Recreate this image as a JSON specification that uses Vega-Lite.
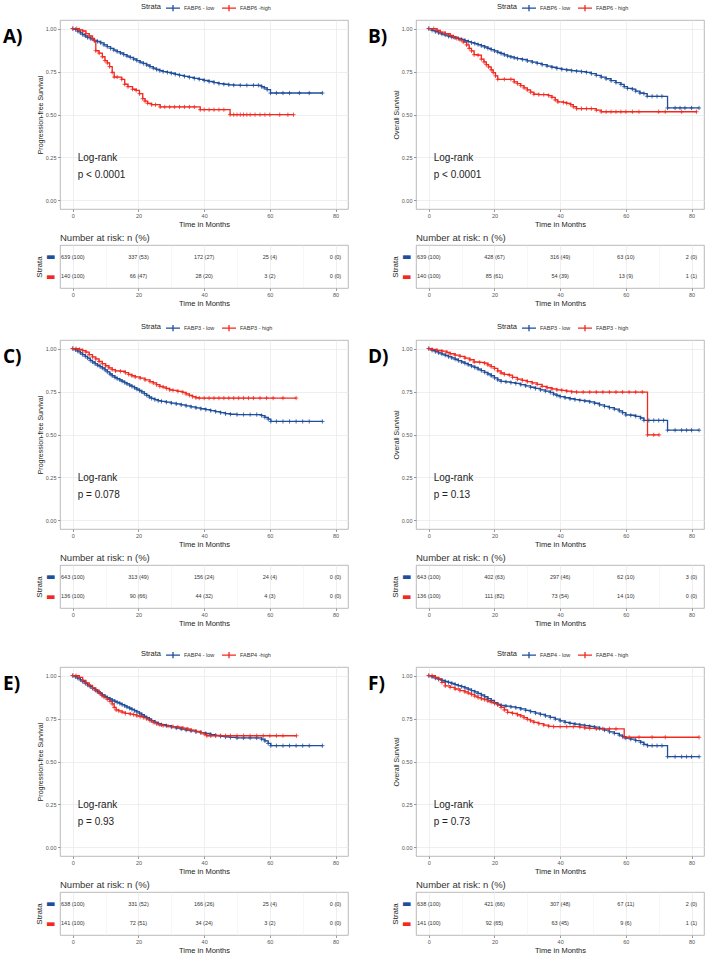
{
"$schema":"https://vega.github.io/schema/vega-lite/v6.json",
"padding":{"left":2,"top":0,"right":0,"bottom":0},
"background":"white",
"datasets":{
"A":[{"g":"l","t":0,"s":1},{"g":"l","t":0.8,"s":0.995},{"g":"l","t":1.5,"s":0.985},{"g":"l","t":2.3,"s":0.975},{"g":"l","t":3,"s":0.965},{"g":"l","t":3.8,"s":0.957},{"g":"l","t":4.5,"s":0.948},{"g":"l","t":5.5,"s":0.94},{"g":"l","t":6.5,"s":0.932},{"g":"l","t":7.5,"s":0.925},{"g":"l","t":8.5,"s":0.917},{"g":"l","t":9.5,"s":0.905},{"g":"l","t":10.5,"s":0.895},{"g":"l","t":11.5,"s":0.885},{"g":"l","t":12.5,"s":0.875},{"g":"l","t":13.5,"s":0.866},{"g":"l","t":14.5,"s":0.858},{"g":"l","t":15.5,"s":0.849},{"g":"l","t":16.5,"s":0.84},{"g":"l","t":17.5,"s":0.832},{"g":"l","t":18.5,"s":0.823},{"g":"l","t":19.5,"s":0.814},{"g":"l","t":20.5,"s":0.805},{"g":"l","t":21.5,"s":0.797},{"g":"l","t":22.5,"s":0.788},{"g":"l","t":23.5,"s":0.779},{"g":"l","t":24.5,"s":0.77},{"g":"l","t":25.5,"s":0.762},{"g":"l","t":26.5,"s":0.755},{"g":"l","t":27.5,"s":0.75},{"g":"l","t":28.8,"s":0.745},{"g":"l","t":30,"s":0.74},{"g":"l","t":31.2,"s":0.734},{"g":"l","t":32.5,"s":0.728},{"g":"l","t":34,"s":0.722},{"g":"l","t":35.5,"s":0.716},{"g":"l","t":37,"s":0.71},{"g":"l","t":38.5,"s":0.705},{"g":"l","t":40,"s":0.698},{"g":"l","t":41.5,"s":0.692},{"g":"l","t":43,"s":0.686},{"g":"l","t":44.5,"s":0.68},{"g":"l","t":46,"s":0.676},{"g":"l","t":47.5,"s":0.673},{"g":"l","t":49,"s":0.671},{"g":"l","t":51,"s":0.67},{"g":"l","t":53,"s":0.67},{"g":"l","t":55,"s":0.67},{"g":"l","t":56.5,"s":0.67},{"g":"l","t":57.5,"s":0.662},{"g":"l","t":58.3,"s":0.655},{"g":"l","t":59.2,"s":0.645},{"g":"l","t":60.2,"s":0.625},{"g":"l","t":62,"s":0.625},{"g":"l","t":64,"s":0.625},{"g":"l","t":66,"s":0.625},{"g":"l","t":69,"s":0.625},{"g":"l","t":72,"s":0.625},{"g":"l","t":76,"s":0.625},
{"g":"h","t":0,"s":1},{"g":"h","t":1.2,"s":1},{"g":"h","t":2,"s":0.993},{"g":"h","t":3,"s":0.986},{"g":"h","t":4,"s":0.971},{"g":"h","t":5,"s":0.957},{"g":"h","t":6,"s":0.943},{"g":"h","t":6.6,"s":0.929},{"g":"h","t":7,"s":0.871},{"g":"h","t":8,"s":0.857},{"g":"h","t":9,"s":0.836},{"g":"h","t":9.8,"s":0.814},{"g":"h","t":10.5,"s":0.8},{"g":"h","t":11.2,"s":0.779},{"g":"h","t":12,"s":0.745},{"g":"h","t":12.6,"s":0.718},{"g":"h","t":13.5,"s":0.718},{"g":"h","t":14.9,"s":0.705},{"g":"h","t":15.8,"s":0.676},{"g":"h","t":16.8,"s":0.662},{"g":"h","t":18.2,"s":0.647},{"g":"h","t":19.3,"s":0.64},{"g":"h","t":20.3,"s":0.621},{"g":"h","t":21.3,"s":0.592},{"g":"h","t":22,"s":0.578},{"g":"h","t":22.8,"s":0.565},{"g":"h","t":24,"s":0.557},{"g":"h","t":25.2,"s":0.557},{"g":"h","t":26.6,"s":0.544},{"g":"h","t":28,"s":0.544},{"g":"h","t":29.5,"s":0.544},{"g":"h","t":31,"s":0.544},{"g":"h","t":32.5,"s":0.544},{"g":"h","t":34,"s":0.544},{"g":"h","t":35.5,"s":0.544},{"g":"h","t":37,"s":0.544},{"g":"h","t":38.8,"s":0.528},{"g":"h","t":40,"s":0.528},{"g":"h","t":41.5,"s":0.528},{"g":"h","t":43,"s":0.528},{"g":"h","t":44.5,"s":0.528},{"g":"h","t":46,"s":0.528},{"g":"h","t":47.9,"s":0.499},{"g":"h","t":49,"s":0.499},{"g":"h","t":50,"s":0.499},{"g":"h","t":51,"s":0.499},{"g":"h","t":52,"s":0.499},{"g":"h","t":53,"s":0.499},{"g":"h","t":54,"s":0.499},{"g":"h","t":55.5,"s":0.499},{"g":"h","t":57,"s":0.499},{"g":"h","t":58.5,"s":0.499},{"g":"h","t":60,"s":0.499},{"g":"h","t":63,"s":0.499},{"g":"h","t":65.5,"s":0.499},{"g":"h","t":67.2,"s":0.499}],
"B":[{"g":"l","t":0,"s":1},{"g":"l","t":1,"s":0.99},{"g":"l","t":2,"s":0.982},{"g":"l","t":3,"s":0.975},{"g":"l","t":4,"s":0.968},{"g":"l","t":5,"s":0.962},{"g":"l","t":6,"s":0.955},{"g":"l","t":7,"s":0.95},{"g":"l","t":8,"s":0.946},{"g":"l","t":9,"s":0.942},{"g":"l","t":10,"s":0.937},{"g":"l","t":11,"s":0.93},{"g":"l","t":12,"s":0.924},{"g":"l","t":13,"s":0.918},{"g":"l","t":14,"s":0.913},{"g":"l","t":15,"s":0.907},{"g":"l","t":16,"s":0.9},{"g":"l","t":17,"s":0.893},{"g":"l","t":18,"s":0.885},{"g":"l","t":19,"s":0.878},{"g":"l","t":20,"s":0.87},{"g":"l","t":21,"s":0.862},{"g":"l","t":22,"s":0.855},{"g":"l","t":23,"s":0.847},{"g":"l","t":24,"s":0.84},{"g":"l","t":25,"s":0.835},{"g":"l","t":26,"s":0.83},{"g":"l","t":27,"s":0.825},{"g":"l","t":28.5,"s":0.82},{"g":"l","t":30,"s":0.812},{"g":"l","t":31.5,"s":0.805},{"g":"l","t":33,"s":0.798},{"g":"l","t":34.5,"s":0.79},{"g":"l","t":36,"s":0.782},{"g":"l","t":37.5,"s":0.775},{"g":"l","t":39,"s":0.768},{"g":"l","t":40.5,"s":0.763},{"g":"l","t":42,"s":0.759},{"g":"l","t":43.5,"s":0.755},{"g":"l","t":45,"s":0.752},{"g":"l","t":46.5,"s":0.749},{"g":"l","t":48,"s":0.745},{"g":"l","t":49.5,"s":0.738},{"g":"l","t":51,"s":0.728},{"g":"l","t":52.5,"s":0.718},{"g":"l","t":54,"s":0.708},{"g":"l","t":55.5,"s":0.697},{"g":"l","t":57,"s":0.686},{"g":"l","t":58.5,"s":0.675},{"g":"l","t":59.5,"s":0.662},{"g":"l","t":60.5,"s":0.652},{"g":"l","t":62,"s":0.648},{"g":"l","t":63,"s":0.636},{"g":"l","t":64.3,"s":0.625},{"g":"l","t":65.5,"s":0.622},{"g":"l","t":66.5,"s":0.606},{"g":"l","t":68,"s":0.606},{"g":"l","t":69.5,"s":0.606},{"g":"l","t":71,"s":0.606},{"g":"l","t":72.7,"s":0.538},{"g":"l","t":75,"s":0.538},{"g":"l","t":76.5,"s":0.538},{"g":"l","t":78,"s":0.538},{"g":"l","t":80,"s":0.538},{"g":"l","t":82.3,"s":0.538},
{"g":"h","t":0,"s":1},{"g":"h","t":1.5,"s":1},{"g":"h","t":2.5,"s":0.99},{"g":"h","t":3.5,"s":0.98},{"g":"h","t":5,"s":0.97},{"g":"h","t":6.5,"s":0.96},{"g":"h","t":7.5,"s":0.951},{"g":"h","t":8.5,"s":0.943},{"g":"h","t":9.5,"s":0.935},{"g":"h","t":10.5,"s":0.922},{"g":"h","t":11.5,"s":0.905},{"g":"h","t":12.3,"s":0.885},{"g":"h","t":13,"s":0.87},{"g":"h","t":13.8,"s":0.848},{"g":"h","t":15,"s":0.845},{"g":"h","t":16,"s":0.822},{"g":"h","t":16.8,"s":0.806},{"g":"h","t":17.5,"s":0.79},{"g":"h","t":18.2,"s":0.777},{"g":"h","t":19,"s":0.76},{"g":"h","t":19.6,"s":0.744},{"g":"h","t":20.3,"s":0.725},{"g":"h","t":21,"s":0.705},{"g":"h","t":23,"s":0.705},{"g":"h","t":25,"s":0.705},{"g":"h","t":26,"s":0.69},{"g":"h","t":27,"s":0.68},{"g":"h","t":28,"s":0.668},{"g":"h","t":29,"s":0.655},{"g":"h","t":30,"s":0.643},{"g":"h","t":31,"s":0.63},{"g":"h","t":32,"s":0.618},{"g":"h","t":33.5,"s":0.616},{"g":"h","t":35,"s":0.616},{"g":"h","t":36.5,"s":0.61},{"g":"h","t":37.5,"s":0.6},{"g":"h","t":38.5,"s":0.585},{"g":"h","t":39.3,"s":0.573},{"g":"h","t":41,"s":0.57},{"g":"h","t":42,"s":0.565},{"g":"h","t":43.2,"s":0.557},{"g":"h","t":44,"s":0.545},{"g":"h","t":45,"s":0.534},{"g":"h","t":46.5,"s":0.534},{"g":"h","t":48,"s":0.534},{"g":"h","t":49.5,"s":0.534},{"g":"h","t":51,"s":0.525},{"g":"h","t":52.5,"s":0.516},{"g":"h","t":54,"s":0.516},{"g":"h","t":55.5,"s":0.516},{"g":"h","t":57,"s":0.516},{"g":"h","t":58.5,"s":0.516},{"g":"h","t":60,"s":0.516},{"g":"h","t":62,"s":0.516},{"g":"h","t":64,"s":0.516},{"g":"h","t":70,"s":0.516},{"g":"h","t":72,"s":0.516},{"g":"h","t":77,"s":0.516},{"g":"h","t":81.5,"s":0.516}],
"C":[{"g":"l","t":0,"s":1},{"g":"l","t":0.8,"s":0.993},{"g":"l","t":1.5,"s":0.985},{"g":"l","t":2.3,"s":0.975},{"g":"l","t":3,"s":0.965},{"g":"l","t":3.8,"s":0.955},{"g":"l","t":4.5,"s":0.945},{"g":"l","t":5.3,"s":0.932},{"g":"l","t":6,"s":0.922},{"g":"l","t":6.8,"s":0.912},{"g":"l","t":7.5,"s":0.903},{"g":"l","t":8.3,"s":0.895},{"g":"l","t":9,"s":0.887},{"g":"l","t":9.8,"s":0.876},{"g":"l","t":10.5,"s":0.865},{"g":"l","t":11.3,"s":0.852},{"g":"l","t":12,"s":0.842},{"g":"l","t":12.8,"s":0.833},{"g":"l","t":13.5,"s":0.825},{"g":"l","t":14.3,"s":0.818},{"g":"l","t":15,"s":0.81},{"g":"l","t":15.8,"s":0.802},{"g":"l","t":16.5,"s":0.795},{"g":"l","t":17.3,"s":0.787},{"g":"l","t":18,"s":0.78},{"g":"l","t":18.8,"s":0.772},{"g":"l","t":19.5,"s":0.764},{"g":"l","t":20.3,"s":0.756},{"g":"l","t":21,"s":0.748},{"g":"l","t":21.8,"s":0.738},{"g":"l","t":22.5,"s":0.728},{"g":"l","t":23.3,"s":0.718},{"g":"l","t":24,"s":0.71},{"g":"l","t":25,"s":0.703},{"g":"l","t":26,"s":0.697},{"g":"l","t":27,"s":0.693},{"g":"l","t":28.5,"s":0.688},{"g":"l","t":30,"s":0.683},{"g":"l","t":31.5,"s":0.678},{"g":"l","t":33,"s":0.673},{"g":"l","t":34.5,"s":0.667},{"g":"l","t":36,"s":0.661},{"g":"l","t":37.5,"s":0.655},{"g":"l","t":39,"s":0.65},{"g":"l","t":40.5,"s":0.645},{"g":"l","t":42,"s":0.639},{"g":"l","t":43.5,"s":0.633},{"g":"l","t":45,"s":0.627},{"g":"l","t":46.5,"s":0.621},{"g":"l","t":48,"s":0.618},{"g":"l","t":50,"s":0.616},{"g":"l","t":52,"s":0.616},{"g":"l","t":54,"s":0.616},{"g":"l","t":56,"s":0.616},{"g":"l","t":57.5,"s":0.61},{"g":"l","t":58.5,"s":0.6},{"g":"l","t":59.5,"s":0.59},{"g":"l","t":60.3,"s":0.576},{"g":"l","t":62,"s":0.576},{"g":"l","t":64,"s":0.576},{"g":"l","t":66,"s":0.576},{"g":"l","t":68,"s":0.576},{"g":"l","t":70,"s":0.576},{"g":"l","t":72,"s":0.576},{"g":"l","t":76,"s":0.576},
{"g":"h","t":0,"s":1},{"g":"h","t":1,"s":1},{"g":"h","t":2,"s":0.995},{"g":"h","t":3,"s":0.988},{"g":"h","t":4,"s":0.98},{"g":"h","t":5,"s":0.965},{"g":"h","t":6,"s":0.952},{"g":"h","t":7,"s":0.94},{"g":"h","t":8,"s":0.925},{"g":"h","t":9,"s":0.912},{"g":"h","t":10,"s":0.9},{"g":"h","t":11,"s":0.888},{"g":"h","t":12,"s":0.878},{"g":"h","t":13,"s":0.87},{"g":"h","t":14.5,"s":0.868},{"g":"h","t":16,"s":0.86},{"g":"h","t":17,"s":0.85},{"g":"h","t":18,"s":0.842},{"g":"h","t":19,"s":0.835},{"g":"h","t":20.5,"s":0.828},{"g":"h","t":22,"s":0.818},{"g":"h","t":23.5,"s":0.808},{"g":"h","t":24.5,"s":0.8},{"g":"h","t":25.5,"s":0.79},{"g":"h","t":26.5,"s":0.78},{"g":"h","t":27.5,"s":0.776},{"g":"h","t":28.5,"s":0.768},{"g":"h","t":29.5,"s":0.76},{"g":"h","t":30.5,"s":0.757},{"g":"h","t":32,"s":0.751},{"g":"h","t":33.5,"s":0.745},{"g":"h","t":34.5,"s":0.736},{"g":"h","t":35.5,"s":0.728},{"g":"h","t":36.5,"s":0.72},{"g":"h","t":37.5,"s":0.714},{"g":"h","t":38.5,"s":0.712},{"g":"h","t":40,"s":0.712},{"g":"h","t":41.5,"s":0.712},{"g":"h","t":43,"s":0.712},{"g":"h","t":44.5,"s":0.712},{"g":"h","t":46,"s":0.712},{"g":"h","t":47.5,"s":0.712},{"g":"h","t":49,"s":0.712},{"g":"h","t":50.5,"s":0.712},{"g":"h","t":52,"s":0.712},{"g":"h","t":53.5,"s":0.712},{"g":"h","t":55,"s":0.712},{"g":"h","t":57,"s":0.712},{"g":"h","t":59,"s":0.712},{"g":"h","t":61,"s":0.712},{"g":"h","t":64,"s":0.712},{"g":"h","t":68,"s":0.712}],
"D":[{"g":"l","t":0,"s":1},{"g":"l","t":1,"s":0.99},{"g":"l","t":2,"s":0.982},{"g":"l","t":3,"s":0.975},{"g":"l","t":4,"s":0.968},{"g":"l","t":5,"s":0.961},{"g":"l","t":6,"s":0.953},{"g":"l","t":7,"s":0.946},{"g":"l","t":8,"s":0.938},{"g":"l","t":9,"s":0.93},{"g":"l","t":10,"s":0.922},{"g":"l","t":11,"s":0.914},{"g":"l","t":12,"s":0.906},{"g":"l","t":13,"s":0.898},{"g":"l","t":14,"s":0.89},{"g":"l","t":15,"s":0.881},{"g":"l","t":16,"s":0.872},{"g":"l","t":17,"s":0.862},{"g":"l","t":18,"s":0.852},{"g":"l","t":19,"s":0.842},{"g":"l","t":20,"s":0.83},{"g":"l","t":21,"s":0.818},{"g":"l","t":22,"s":0.809},{"g":"l","t":23.5,"s":0.806},{"g":"l","t":25,"s":0.802},{"g":"l","t":26.5,"s":0.797},{"g":"l","t":28,"s":0.79},{"g":"l","t":29.5,"s":0.783},{"g":"l","t":31,"s":0.775},{"g":"l","t":32.5,"s":0.768},{"g":"l","t":34,"s":0.76},{"g":"l","t":35.5,"s":0.752},{"g":"l","t":37,"s":0.745},{"g":"l","t":38,"s":0.735},{"g":"l","t":39,"s":0.727},{"g":"l","t":40,"s":0.72},{"g":"l","t":41.5,"s":0.714},{"g":"l","t":43,"s":0.708},{"g":"l","t":44.5,"s":0.703},{"g":"l","t":46,"s":0.699},{"g":"l","t":47.5,"s":0.695},{"g":"l","t":49,"s":0.69},{"g":"l","t":50.5,"s":0.682},{"g":"l","t":52,"s":0.673},{"g":"l","t":53.5,"s":0.664},{"g":"l","t":55,"s":0.656},{"g":"l","t":56.5,"s":0.648},{"g":"l","t":58,"s":0.638},{"g":"l","t":59,"s":0.627},{"g":"l","t":60,"s":0.614},{"g":"l","t":61.5,"s":0.612},{"g":"l","t":63,"s":0.606},{"g":"l","t":64.5,"s":0.596},{"g":"l","t":65.5,"s":0.582},{"g":"l","t":67,"s":0.582},{"g":"l","t":68.5,"s":0.582},{"g":"l","t":70,"s":0.582},{"g":"l","t":71.5,"s":0.582},{"g":"l","t":72.7,"s":0.525},{"g":"l","t":75,"s":0.525},{"g":"l","t":77,"s":0.525},{"g":"l","t":78.5,"s":0.525},{"g":"l","t":80,"s":0.525},{"g":"l","t":82.3,"s":0.525},
{"g":"h","t":0,"s":1},{"g":"h","t":1,"s":0.995},{"g":"h","t":2.5,"s":0.99},{"g":"h","t":4,"s":0.985},{"g":"h","t":5.5,"s":0.978},{"g":"h","t":6.5,"s":0.97},{"g":"h","t":8,"s":0.962},{"g":"h","t":9.5,"s":0.955},{"g":"h","t":11,"s":0.945},{"g":"h","t":12.5,"s":0.935},{"g":"h","t":13.8,"s":0.922},{"g":"h","t":15.5,"s":0.92},{"g":"h","t":17,"s":0.915},{"g":"h","t":18,"s":0.905},{"g":"h","t":19,"s":0.895},{"g":"h","t":20,"s":0.885},{"g":"h","t":21,"s":0.87},{"g":"h","t":22,"s":0.858},{"g":"h","t":23,"s":0.85},{"g":"h","t":24.5,"s":0.845},{"g":"h","t":25.5,"s":0.833},{"g":"h","t":27,"s":0.822},{"g":"h","t":28.5,"s":0.815},{"g":"h","t":30,"s":0.808},{"g":"h","t":31.5,"s":0.8},{"g":"h","t":33,"s":0.792},{"g":"h","t":34.5,"s":0.78},{"g":"h","t":36,"s":0.772},{"g":"h","t":37.5,"s":0.765},{"g":"h","t":39,"s":0.76},{"g":"h","t":40.5,"s":0.757},{"g":"h","t":42,"s":0.752},{"g":"h","t":43.5,"s":0.748},{"g":"h","t":45,"s":0.747},{"g":"h","t":47,"s":0.747},{"g":"h","t":49,"s":0.747},{"g":"h","t":51,"s":0.747},{"g":"h","t":53,"s":0.747},{"g":"h","t":55,"s":0.747},{"g":"h","t":57,"s":0.747},{"g":"h","t":59,"s":0.747},{"g":"h","t":61,"s":0.747},{"g":"h","t":63,"s":0.747},{"g":"h","t":65,"s":0.747},{"g":"h","t":66.6,"s":0.498},{"g":"h","t":68.5,"s":0.498},{"g":"h","t":70.1,"s":0.498}],
"E":[{"g":"l","t":0,"s":1},{"g":"l","t":0.8,"s":0.993},{"g":"l","t":1.5,"s":0.985},{"g":"l","t":2.3,"s":0.975},{"g":"l","t":3,"s":0.965},{"g":"l","t":3.8,"s":0.955},{"g":"l","t":4.5,"s":0.945},{"g":"l","t":5.3,"s":0.936},{"g":"l","t":6,"s":0.926},{"g":"l","t":6.8,"s":0.916},{"g":"l","t":7.5,"s":0.906},{"g":"l","t":8.3,"s":0.897},{"g":"l","t":9,"s":0.888},{"g":"l","t":9.8,"s":0.879},{"g":"l","t":10.5,"s":0.871},{"g":"l","t":11.3,"s":0.864},{"g":"l","t":12,"s":0.857},{"g":"l","t":12.8,"s":0.85},{"g":"l","t":13.5,"s":0.844},{"g":"l","t":14.3,"s":0.838},{"g":"l","t":15,"s":0.831},{"g":"l","t":15.8,"s":0.824},{"g":"l","t":16.5,"s":0.817},{"g":"l","t":17.3,"s":0.81},{"g":"l","t":18,"s":0.803},{"g":"l","t":18.8,"s":0.796},{"g":"l","t":19.5,"s":0.789},{"g":"l","t":20.3,"s":0.781},{"g":"l","t":21,"s":0.772},{"g":"l","t":21.8,"s":0.763},{"g":"l","t":22.5,"s":0.755},{"g":"l","t":23.3,"s":0.747},{"g":"l","t":24,"s":0.738},{"g":"l","t":25,"s":0.728},{"g":"l","t":26,"s":0.72},{"g":"l","t":27,"s":0.714},{"g":"l","t":28.5,"s":0.708},{"g":"l","t":30,"s":0.701},{"g":"l","t":31.5,"s":0.695},{"g":"l","t":33,"s":0.689},{"g":"l","t":34.5,"s":0.683},{"g":"l","t":36,"s":0.678},{"g":"l","t":37.5,"s":0.673},{"g":"l","t":39,"s":0.668},{"g":"l","t":40.5,"s":0.663},{"g":"l","t":42,"s":0.657},{"g":"l","t":43.5,"s":0.652},{"g":"l","t":45,"s":0.647},{"g":"l","t":46.5,"s":0.643},{"g":"l","t":48,"s":0.64},{"g":"l","t":50,"s":0.637},{"g":"l","t":52,"s":0.637},{"g":"l","t":54,"s":0.637},{"g":"l","t":56,"s":0.637},{"g":"l","t":57.5,"s":0.63},{"g":"l","t":58.5,"s":0.62},{"g":"l","t":59.5,"s":0.605},{"g":"l","t":60.3,"s":0.592},{"g":"l","t":62,"s":0.592},{"g":"l","t":64,"s":0.592},{"g":"l","t":66,"s":0.592},{"g":"l","t":68,"s":0.592},{"g":"l","t":70,"s":0.592},{"g":"l","t":72,"s":0.592},{"g":"l","t":76,"s":0.592},
{"g":"h","t":0,"s":1},{"g":"h","t":1,"s":1},{"g":"h","t":2,"s":0.99},{"g":"h","t":3,"s":0.972},{"g":"h","t":4,"s":0.958},{"g":"h","t":5,"s":0.943},{"g":"h","t":6,"s":0.928},{"g":"h","t":7,"s":0.915},{"g":"h","t":8,"s":0.9},{"g":"h","t":8.8,"s":0.885},{"g":"h","t":9.5,"s":0.875},{"g":"h","t":10.5,"s":0.862},{"g":"h","t":11.3,"s":0.85},{"g":"h","t":12,"s":0.835},{"g":"h","t":12.6,"s":0.815},{"g":"h","t":13.2,"s":0.8},{"g":"h","t":14,"s":0.795},{"g":"h","t":15,"s":0.787},{"g":"h","t":16,"s":0.78},{"g":"h","t":17.5,"s":0.776},{"g":"h","t":18.5,"s":0.773},{"g":"h","t":19.5,"s":0.766},{"g":"h","t":20.5,"s":0.762},{"g":"h","t":21.5,"s":0.757},{"g":"h","t":22.5,"s":0.748},{"g":"h","t":23.5,"s":0.738},{"g":"h","t":24.5,"s":0.728},{"g":"h","t":25.5,"s":0.72},{"g":"h","t":26.5,"s":0.714},{"g":"h","t":27.5,"s":0.709},{"g":"h","t":29,"s":0.706},{"g":"h","t":30.5,"s":0.703},{"g":"h","t":32,"s":0.7},{"g":"h","t":33.5,"s":0.694},{"g":"h","t":35,"s":0.688},{"g":"h","t":36,"s":0.683},{"g":"h","t":37.5,"s":0.675},{"g":"h","t":39,"s":0.668},{"g":"h","t":40,"s":0.66},{"g":"h","t":40.8,"s":0.65},{"g":"h","t":42,"s":0.65},{"g":"h","t":43.5,"s":0.65},{"g":"h","t":45,"s":0.65},{"g":"h","t":46.5,"s":0.65},{"g":"h","t":48,"s":0.65},{"g":"h","t":50,"s":0.65},{"g":"h","t":52,"s":0.65},{"g":"h","t":54,"s":0.65},{"g":"h","t":56,"s":0.65},{"g":"h","t":58,"s":0.65},{"g":"h","t":60,"s":0.65},{"g":"h","t":62,"s":0.65},{"g":"h","t":64,"s":0.65},{"g":"h","t":68.1,"s":0.65}],
"F":[{"g":"l","t":0,"s":1},{"g":"l","t":1,"s":0.993},{"g":"l","t":2,"s":0.985},{"g":"l","t":3,"s":0.978},{"g":"l","t":4,"s":0.972},{"g":"l","t":5,"s":0.966},{"g":"l","t":6,"s":0.96},{"g":"l","t":7,"s":0.954},{"g":"l","t":8,"s":0.948},{"g":"l","t":9,"s":0.942},{"g":"l","t":10,"s":0.936},{"g":"l","t":11,"s":0.929},{"g":"l","t":12,"s":0.921},{"g":"l","t":13,"s":0.913},{"g":"l","t":14,"s":0.905},{"g":"l","t":15,"s":0.896},{"g":"l","t":16,"s":0.887},{"g":"l","t":17,"s":0.877},{"g":"l","t":18,"s":0.866},{"g":"l","t":19,"s":0.855},{"g":"l","t":20,"s":0.843},{"g":"l","t":21,"s":0.833},{"g":"l","t":22,"s":0.826},{"g":"l","t":23.5,"s":0.822},{"g":"l","t":25,"s":0.818},{"g":"l","t":26.5,"s":0.813},{"g":"l","t":28,"s":0.806},{"g":"l","t":29.5,"s":0.798},{"g":"l","t":31,"s":0.79},{"g":"l","t":32.5,"s":0.782},{"g":"l","t":34,"s":0.774},{"g":"l","t":35.5,"s":0.766},{"g":"l","t":37,"s":0.757},{"g":"l","t":38.5,"s":0.747},{"g":"l","t":40,"s":0.737},{"g":"l","t":41.5,"s":0.728},{"g":"l","t":43,"s":0.722},{"g":"l","t":44.5,"s":0.717},{"g":"l","t":46,"s":0.713},{"g":"l","t":47.5,"s":0.709},{"g":"l","t":49,"s":0.705},{"g":"l","t":50.5,"s":0.7},{"g":"l","t":52,"s":0.692},{"g":"l","t":53.5,"s":0.683},{"g":"l","t":55,"s":0.673},{"g":"l","t":56.5,"s":0.664},{"g":"l","t":58,"s":0.654},{"g":"l","t":59,"s":0.645},{"g":"l","t":60,"s":0.636},{"g":"l","t":61.5,"s":0.63},{"g":"l","t":63,"s":0.622},{"g":"l","t":64.5,"s":0.612},{"g":"l","t":65.5,"s":0.6},{"g":"l","t":66.6,"s":0.592},{"g":"l","t":68,"s":0.592},{"g":"l","t":69.5,"s":0.592},{"g":"l","t":71,"s":0.592},{"g":"l","t":72.7,"s":0.528},{"g":"l","t":75,"s":0.528},{"g":"l","t":77,"s":0.528},{"g":"l","t":78.5,"s":0.528},{"g":"l","t":80,"s":0.528},{"g":"l","t":82.3,"s":0.528},
{"g":"h","t":0,"s":1},{"g":"h","t":1,"s":1},{"g":"h","t":2,"s":0.99},{"g":"h","t":3,"s":0.981},{"g":"h","t":4,"s":0.96},{"g":"h","t":5,"s":0.94},{"g":"h","t":6.5,"s":0.932},{"g":"h","t":8,"s":0.922},{"g":"h","t":9.5,"s":0.913},{"g":"h","t":11,"s":0.905},{"g":"h","t":12,"s":0.898},{"g":"h","t":13,"s":0.89},{"g":"h","t":14,"s":0.88},{"g":"h","t":15,"s":0.872},{"g":"h","t":16,"s":0.865},{"g":"h","t":17,"s":0.86},{"g":"h","t":18,"s":0.852},{"g":"h","t":19,"s":0.845},{"g":"h","t":20,"s":0.838},{"g":"h","t":21,"s":0.83},{"g":"h","t":22,"s":0.815},{"g":"h","t":23,"s":0.8},{"g":"h","t":24,"s":0.786},{"g":"h","t":25.5,"s":0.78},{"g":"h","t":27,"s":0.772},{"g":"h","t":28,"s":0.765},{"g":"h","t":29,"s":0.755},{"g":"h","t":30,"s":0.745},{"g":"h","t":31,"s":0.737},{"g":"h","t":32,"s":0.728},{"g":"h","t":33.5,"s":0.72},{"g":"h","t":35,"s":0.712},{"g":"h","t":36.5,"s":0.705},{"g":"h","t":38,"s":0.703},{"g":"h","t":40,"s":0.703},{"g":"h","t":42,"s":0.703},{"g":"h","t":44,"s":0.703},{"g":"h","t":46,"s":0.7},{"g":"h","t":47.5,"s":0.695},{"g":"h","t":49,"s":0.693},{"g":"h","t":51,"s":0.69},{"g":"h","t":53,"s":0.69},{"g":"h","t":55,"s":0.69},{"g":"h","t":57,"s":0.69},{"g":"h","t":59.5,"s":0.641},{"g":"h","t":61,"s":0.641},{"g":"h","t":64,"s":0.641},{"g":"h","t":68,"s":0.641},{"g":"h","t":72,"s":0.641},{"g":"h","t":82.3,"s":0.641}]
},
"vconcat":[
{"hconcat":[
{"vconcat":[
{"width":288,"height":189,"title":{"text":"A)","anchor":"start","frame":"bounds","fontSize":19,"fontWeight":"bold","font":"Open Sans","color":"#000","baseline":"top","dx":-33,"dy":27,"offset":0},
"data":{"name":"A"},
"layer":[
{"mark":{"type":"line","interpolate":"step-after","strokeWidth":1.3,"point":{"shape":"M-1,0H1M0,-1V1","filled":false,"size":18,"strokeWidth":0.8}},
"encoding":{"x":{"field":"t","type":"quantitative","scale":{"domain":[-3.9,83.8],"nice":false,"zero":false},"axis":{"values":[0,10,20,30,40,50,60,70,80],"labelExpr":"datum.value % 20 == 0 ? datum.label : ''","title":"Time in Months","tickOpacity":{"condition":{"test":"datum.value % 20 == 0","value":1},"value":0},"gridWidth":{"condition":{"test":"datum.value % 20 == 0","value":0.8},"value":0.4}}},
"y":{"field":"s","type":"quantitative","scale":{"domain":[-0.05,1.05],"nice":false,"zero":false},"axis":{"values":[0,0.125,0.25,0.375,0.5,0.625,0.75,0.875,1],"labelExpr":"(datum.value*4) % 1 == 0 ? format(datum.value, '.2f') : ''","title":"Progression-free Survival","minExtent":15,"maxExtent":15,"tickOpacity":{"condition":{"test":"(datum.value*4) % 1 == 0","value":1},"value":0},"gridWidth":{"condition":{"test":"(datum.value*4) % 1 == 0","value":0.8},"value":0.4}}},
"color":{"field":"g","type":"nominal","scale":{"domain":["l","h"],"range":["#1F4E9A","#F2291F"]},"legend":{"title":"Strata","orient":"none","legendX":81,"legendY":-20,"direction":"horizontal","labelExpr":"datum.label == 'l' ? 'FABP6 - low' : 'FABP6 -high'"}}}},
{"data":{"values":[{}]},"mark":{"type":"text","align":"left","baseline":"middle","fontSize":10,"color":"#222","lineHeight":17,"text":["Log-rank","p < 0.0001"]},"encoding":{"x":{"datum":1.5},"y":{"datum":0.245}}}
]},
{"width":288,"height":43,"title":{"text":"Number at risk: n (%)","anchor":"start","frame":"group","fontSize":9.5,"fontWeight":"normal","color":"#333","offset":3},
"data":{"values":[{"g":"l","t":0,"n":"639 (100)"},{"g":"l","t":20,"n":"337 (53)"},{"g":"l","t":40,"n":"172 (27)"},{"g":"l","t":60,"n":"25 (4)"},{"g":"l","t":80,"n":"0 (0)"},{"g":"h","t":0,"n":"140 (100)"},{"g":"h","t":20,"n":"66 (47)"},{"g":"h","t":40,"n":"28 (20)"},{"g":"h","t":60,"n":"3 (2)"},{"g":"h","t":80,"n":"0 (0)"}]},
"mark":{"type":"text","fontSize":5.5,"color":"#333"},
"encoding":{"x":{"field":"t","type":"quantitative","scale":{"domain":[-3.9,83.8],"nice":false,"zero":false},"axis":{"values":[0,10,20,30,40,50,60,70,80],"labelExpr":"datum.value % 20 == 0 ? datum.label : ''","title":"Time in Months","tickOpacity":{"condition":{"test":"datum.value % 20 == 0","value":1},"value":0},"gridWidth":{"condition":{"test":"datum.value % 20 == 0","value":0.8},"value":0.4}}},
"y":{"field":"g","type":"nominal","scale":{"type":"point","domain":["l","h"],"padding":0.6},"axis":{"title":"Strata","titleFontSize":8,"labelExpr":"'▬'","labelFont":"DejaVu Sans","labelFontSize":10,"labelColor":{"condition":{"test":"datum.value == 'l'","value":"#1F4E9A"},"value":"#F2291F"},"ticks":false,"labelPadding":5,"minExtent":15,"maxExtent":15}},
"text":{"field":"n"}}}
],"spacing":3},
{"vconcat":[
{"width":288,"height":189,"title":{"text":"B)","anchor":"start","frame":"bounds","fontSize":19,"fontWeight":"bold","font":"Open Sans","color":"#000","baseline":"top","dx":-24,"dy":27,"offset":0},
"data":{"name":"B"},
"layer":[
{"mark":{"type":"line","interpolate":"step-after","strokeWidth":1.3,"point":{"shape":"M-1,0H1M0,-1V1","filled":false,"size":18,"strokeWidth":0.8}},
"encoding":{"x":{"field":"t","type":"quantitative","scale":{"domain":[-3.9,83.8],"nice":false,"zero":false},"axis":{"values":[0,10,20,30,40,50,60,70,80],"labelExpr":"datum.value % 20 == 0 ? datum.label : ''","title":"Time in Months","tickOpacity":{"condition":{"test":"datum.value % 20 == 0","value":1},"value":0},"gridWidth":{"condition":{"test":"datum.value % 20 == 0","value":0.8},"value":0.4}}},
"y":{"field":"s","type":"quantitative","scale":{"domain":[-0.05,1.05],"nice":false,"zero":false},"axis":{"values":[0,0.125,0.25,0.375,0.5,0.625,0.75,0.875,1],"labelExpr":"(datum.value*4) % 1 == 0 ? format(datum.value, '.2f') : ''","title":"Overall Survival","minExtent":15,"maxExtent":15,"tickOpacity":{"condition":{"test":"(datum.value*4) % 1 == 0","value":1},"value":0},"gridWidth":{"condition":{"test":"(datum.value*4) % 1 == 0","value":0.8},"value":0.4}}},
"color":{"field":"g","type":"nominal","scale":{"domain":["l","h"],"range":["#1F4E9A","#F2291F"]},"legend":{"title":"Strata","orient":"none","legendX":81,"legendY":-20,"direction":"horizontal","labelExpr":"datum.label == 'l' ? 'FABP6 - low' : 'FABP6 - high'"}}}},
{"data":{"values":[{}]},"mark":{"type":"text","align":"left","baseline":"middle","fontSize":10,"color":"#222","lineHeight":17,"text":["Log-rank","p < 0.0001"]},"encoding":{"x":{"datum":1.5},"y":{"datum":0.245}}}
]},
{"width":288,"height":43,"title":{"text":"Number at risk: n (%)","anchor":"start","frame":"group","fontSize":9.5,"fontWeight":"normal","color":"#333","offset":3},
"data":{"values":[{"g":"l","t":0,"n":"639 (100)"},{"g":"l","t":20,"n":"428 (67)"},{"g":"l","t":40,"n":"316 (49)"},{"g":"l","t":60,"n":"63 (10)"},{"g":"l","t":80,"n":"2 (0)"},{"g":"h","t":0,"n":"140 (100)"},{"g":"h","t":20,"n":"85 (61)"},{"g":"h","t":40,"n":"54 (39)"},{"g":"h","t":60,"n":"13 (9)"},{"g":"h","t":80,"n":"1 (1)"}]},
"mark":{"type":"text","fontSize":5.5,"color":"#333"},
"encoding":{"x":{"field":"t","type":"quantitative","scale":{"domain":[-3.9,83.8],"nice":false,"zero":false},"axis":{"values":[0,10,20,30,40,50,60,70,80],"labelExpr":"datum.value % 20 == 0 ? datum.label : ''","title":"Time in Months","tickOpacity":{"condition":{"test":"datum.value % 20 == 0","value":1},"value":0},"gridWidth":{"condition":{"test":"datum.value % 20 == 0","value":0.8},"value":0.4}}},
"y":{"field":"g","type":"nominal","scale":{"type":"point","domain":["l","h"],"padding":0.6},"axis":{"title":"Strata","titleFontSize":8,"labelExpr":"'▬'","labelFont":"DejaVu Sans","labelFontSize":10,"labelColor":{"condition":{"test":"datum.value == 'l'","value":"#1F4E9A"},"value":"#F2291F"},"ticks":false,"labelPadding":5,"minExtent":15,"maxExtent":15}},
"text":{"field":"n"}}}
],"spacing":3}
],"spacing":18,"resolve":{"scale":{"color":"independent"},"legend":{"color":"independent"}}},
{"vconcat":[
{"hconcat":[
{"vconcat":[
{"width":288,"height":189,"title":{"text":"C)","anchor":"start","frame":"bounds","fontSize":19,"fontWeight":"bold","font":"Open Sans","color":"#000","baseline":"top","dx":-33,"dy":27,"offset":0},
"data":{"name":"C"},
"layer":[
{"mark":{"type":"line","interpolate":"step-after","strokeWidth":1.3,"point":{"shape":"M-1,0H1M0,-1V1","filled":false,"size":18,"strokeWidth":0.8}},
"encoding":{"x":{"field":"t","type":"quantitative","scale":{"domain":[-3.9,83.8],"nice":false,"zero":false},"axis":{"values":[0,10,20,30,40,50,60,70,80],"labelExpr":"datum.value % 20 == 0 ? datum.label : ''","title":"Time in Months","tickOpacity":{"condition":{"test":"datum.value % 20 == 0","value":1},"value":0},"gridWidth":{"condition":{"test":"datum.value % 20 == 0","value":0.8},"value":0.4}}},
"y":{"field":"s","type":"quantitative","scale":{"domain":[-0.05,1.05],"nice":false,"zero":false},"axis":{"values":[0,0.125,0.25,0.375,0.5,0.625,0.75,0.875,1],"labelExpr":"(datum.value*4) % 1 == 0 ? format(datum.value, '.2f') : ''","title":"Progression-free Survival","minExtent":15,"maxExtent":15,"tickOpacity":{"condition":{"test":"(datum.value*4) % 1 == 0","value":1},"value":0},"gridWidth":{"condition":{"test":"(datum.value*4) % 1 == 0","value":0.8},"value":0.4}}},
"color":{"field":"g","type":"nominal","scale":{"domain":["l","h"],"range":["#1F4E9A","#F2291F"]},"legend":{"title":"Strata","orient":"none","legendX":81,"legendY":-20,"direction":"horizontal","labelExpr":"datum.label == 'l' ? 'FABP3 - low' : 'FABP3  - high'"}}}},
{"data":{"values":[{}]},"mark":{"type":"text","align":"left","baseline":"middle","fontSize":10,"color":"#222","lineHeight":17,"text":["Log-rank","p = 0.078"]},"encoding":{"x":{"datum":1.5},"y":{"datum":0.245}}}
]},
{"width":288,"height":43,"title":{"text":"Number at risk: n (%)","anchor":"start","frame":"group","fontSize":9.5,"fontWeight":"normal","color":"#333","offset":3},
"data":{"values":[{"g":"l","t":0,"n":"643 (100)"},{"g":"l","t":20,"n":"313 (49)"},{"g":"l","t":40,"n":"156 (24)"},{"g":"l","t":60,"n":"24 (4)"},{"g":"l","t":80,"n":"0 (0)"},{"g":"h","t":0,"n":"136 (100)"},{"g":"h","t":20,"n":"90 (66)"},{"g":"h","t":40,"n":"44 (32)"},{"g":"h","t":60,"n":"4 (3)"},{"g":"h","t":80,"n":"0 (0)"}]},
"mark":{"type":"text","fontSize":5.5,"color":"#333"},
"encoding":{"x":{"field":"t","type":"quantitative","scale":{"domain":[-3.9,83.8],"nice":false,"zero":false},"axis":{"values":[0,10,20,30,40,50,60,70,80],"labelExpr":"datum.value % 20 == 0 ? datum.label : ''","title":"Time in Months","tickOpacity":{"condition":{"test":"datum.value % 20 == 0","value":1},"value":0},"gridWidth":{"condition":{"test":"datum.value % 20 == 0","value":0.8},"value":0.4}}},
"y":{"field":"g","type":"nominal","scale":{"type":"point","domain":["l","h"],"padding":0.6},"axis":{"title":"Strata","titleFontSize":8,"labelExpr":"'▬'","labelFont":"DejaVu Sans","labelFontSize":10,"labelColor":{"condition":{"test":"datum.value == 'l'","value":"#1F4E9A"},"value":"#F2291F"},"ticks":false,"labelPadding":5,"minExtent":15,"maxExtent":15}},
"text":{"field":"n"}}}
],"spacing":3},
{"vconcat":[
{"width":288,"height":189,"title":{"text":"D)","anchor":"start","frame":"bounds","fontSize":19,"fontWeight":"bold","font":"Open Sans","color":"#000","baseline":"top","dx":-24,"dy":27,"offset":0},
"data":{"name":"D"},
"layer":[
{"mark":{"type":"line","interpolate":"step-after","strokeWidth":1.3,"point":{"shape":"M-1,0H1M0,-1V1","filled":false,"size":18,"strokeWidth":0.8}},
"encoding":{"x":{"field":"t","type":"quantitative","scale":{"domain":[-3.9,83.8],"nice":false,"zero":false},"axis":{"values":[0,10,20,30,40,50,60,70,80],"labelExpr":"datum.value % 20 == 0 ? datum.label : ''","title":"Time in Months","tickOpacity":{"condition":{"test":"datum.value % 20 == 0","value":1},"value":0},"gridWidth":{"condition":{"test":"datum.value % 20 == 0","value":0.8},"value":0.4}}},
"y":{"field":"s","type":"quantitative","scale":{"domain":[-0.05,1.05],"nice":false,"zero":false},"axis":{"values":[0,0.125,0.25,0.375,0.5,0.625,0.75,0.875,1],"labelExpr":"(datum.value*4) % 1 == 0 ? format(datum.value, '.2f') : ''","title":"Overall Survival","minExtent":15,"maxExtent":15,"tickOpacity":{"condition":{"test":"(datum.value*4) % 1 == 0","value":1},"value":0},"gridWidth":{"condition":{"test":"(datum.value*4) % 1 == 0","value":0.8},"value":0.4}}},
"color":{"field":"g","type":"nominal","scale":{"domain":["l","h"],"range":["#1F4E9A","#F2291F"]},"legend":{"title":"Strata","orient":"none","legendX":81,"legendY":-20,"direction":"horizontal","labelExpr":"datum.label == 'l' ? 'FABP3 - low' : 'FABP3 - high'"}}}},
{"data":{"values":[{}]},"mark":{"type":"text","align":"left","baseline":"middle","fontSize":10,"color":"#222","lineHeight":17,"text":["Log-rank","p = 0.13"]},"encoding":{"x":{"datum":1.5},"y":{"datum":0.245}}}
]},
{"width":288,"height":43,"title":{"text":"Number at risk: n (%)","anchor":"start","frame":"group","fontSize":9.5,"fontWeight":"normal","color":"#333","offset":3},
"data":{"values":[{"g":"l","t":0,"n":"643 (100)"},{"g":"l","t":20,"n":"402 (63)"},{"g":"l","t":40,"n":"297 (46)"},{"g":"l","t":60,"n":"62 (10)"},{"g":"l","t":80,"n":"3 (0)"},{"g":"h","t":0,"n":"136 (100)"},{"g":"h","t":20,"n":"111 (82)"},{"g":"h","t":40,"n":"73 (54)"},{"g":"h","t":60,"n":"14 (10)"},{"g":"h","t":80,"n":"0 (0)"}]},
"mark":{"type":"text","fontSize":5.5,"color":"#333"},
"encoding":{"x":{"field":"t","type":"quantitative","scale":{"domain":[-3.9,83.8],"nice":false,"zero":false},"axis":{"values":[0,10,20,30,40,50,60,70,80],"labelExpr":"datum.value % 20 == 0 ? datum.label : ''","title":"Time in Months","tickOpacity":{"condition":{"test":"datum.value % 20 == 0","value":1},"value":0},"gridWidth":{"condition":{"test":"datum.value % 20 == 0","value":0.8},"value":0.4}}},
"y":{"field":"g","type":"nominal","scale":{"type":"point","domain":["l","h"],"padding":0.6},"axis":{"title":"Strata","titleFontSize":8,"labelExpr":"'▬'","labelFont":"DejaVu Sans","labelFontSize":10,"labelColor":{"condition":{"test":"datum.value == 'l'","value":"#1F4E9A"},"value":"#F2291F"},"ticks":false,"labelPadding":5,"minExtent":15,"maxExtent":15}},
"text":{"field":"n"}}}
],"spacing":3}
],"spacing":18,"resolve":{"scale":{"color":"independent"},"legend":{"color":"independent"}}},
{"hconcat":[
{"vconcat":[
{"width":288,"height":189,"title":{"text":"E)","anchor":"start","frame":"bounds","fontSize":19,"fontWeight":"bold","font":"Open Sans","color":"#000","baseline":"top","dx":-33,"dy":27,"offset":0},
"data":{"name":"E"},
"layer":[
{"mark":{"type":"line","interpolate":"step-after","strokeWidth":1.3,"point":{"shape":"M-1,0H1M0,-1V1","filled":false,"size":18,"strokeWidth":0.8}},
"encoding":{"x":{"field":"t","type":"quantitative","scale":{"domain":[-3.9,83.8],"nice":false,"zero":false},"axis":{"values":[0,10,20,30,40,50,60,70,80],"labelExpr":"datum.value % 20 == 0 ? datum.label : ''","title":"Time in Months","tickOpacity":{"condition":{"test":"datum.value % 20 == 0","value":1},"value":0},"gridWidth":{"condition":{"test":"datum.value % 20 == 0","value":0.8},"value":0.4}}},
"y":{"field":"s","type":"quantitative","scale":{"domain":[-0.05,1.05],"nice":false,"zero":false},"axis":{"values":[0,0.125,0.25,0.375,0.5,0.625,0.75,0.875,1],"labelExpr":"(datum.value*4) % 1 == 0 ? format(datum.value, '.2f') : ''","title":"Progression-free Survival","minExtent":15,"maxExtent":15,"tickOpacity":{"condition":{"test":"(datum.value*4) % 1 == 0","value":1},"value":0},"gridWidth":{"condition":{"test":"(datum.value*4) % 1 == 0","value":0.8},"value":0.4}}},
"color":{"field":"g","type":"nominal","scale":{"domain":["l","h"],"range":["#1F4E9A","#F2291F"]},"legend":{"title":"Strata","orient":"none","legendX":81,"legendY":-20,"direction":"horizontal","labelExpr":"datum.label == 'l' ? 'FABP4 - low' : 'FABP4 -high'"}}}},
{"data":{"values":[{}]},"mark":{"type":"text","align":"left","baseline":"middle","fontSize":10,"color":"#222","lineHeight":17,"text":["Log-rank","p = 0.93"]},"encoding":{"x":{"datum":1.5},"y":{"datum":0.245}}}
]},
{"width":288,"height":43,"title":{"text":"Number at risk: n (%)","anchor":"start","frame":"group","fontSize":9.5,"fontWeight":"normal","color":"#333","offset":3},
"data":{"values":[{"g":"l","t":0,"n":"638 (100)"},{"g":"l","t":20,"n":"331 (52)"},{"g":"l","t":40,"n":"166 (26)"},{"g":"l","t":60,"n":"25 (4)"},{"g":"l","t":80,"n":"0 (0)"},{"g":"h","t":0,"n":"141 (100)"},{"g":"h","t":20,"n":"72 (51)"},{"g":"h","t":40,"n":"34 (24)"},{"g":"h","t":60,"n":"3 (2)"},{"g":"h","t":80,"n":"0 (0)"}]},
"mark":{"type":"text","fontSize":5.5,"color":"#333"},
"encoding":{"x":{"field":"t","type":"quantitative","scale":{"domain":[-3.9,83.8],"nice":false,"zero":false},"axis":{"values":[0,10,20,30,40,50,60,70,80],"labelExpr":"datum.value % 20 == 0 ? datum.label : ''","title":"Time in Months","tickOpacity":{"condition":{"test":"datum.value % 20 == 0","value":1},"value":0},"gridWidth":{"condition":{"test":"datum.value % 20 == 0","value":0.8},"value":0.4}}},
"y":{"field":"g","type":"nominal","scale":{"type":"point","domain":["l","h"],"padding":0.6},"axis":{"title":"Strata","titleFontSize":8,"labelExpr":"'▬'","labelFont":"DejaVu Sans","labelFontSize":10,"labelColor":{"condition":{"test":"datum.value == 'l'","value":"#1F4E9A"},"value":"#F2291F"},"ticks":false,"labelPadding":5,"minExtent":15,"maxExtent":15}},
"text":{"field":"n"}}}
],"spacing":3},
{"vconcat":[
{"width":288,"height":189,"title":{"text":"F)","anchor":"start","frame":"bounds","fontSize":19,"fontWeight":"bold","font":"Open Sans","color":"#000","baseline":"top","dx":-24,"dy":27,"offset":0},
"data":{"name":"F"},
"layer":[
{"mark":{"type":"line","interpolate":"step-after","strokeWidth":1.3,"point":{"shape":"M-1,0H1M0,-1V1","filled":false,"size":18,"strokeWidth":0.8}},
"encoding":{"x":{"field":"t","type":"quantitative","scale":{"domain":[-3.9,83.8],"nice":false,"zero":false},"axis":{"values":[0,10,20,30,40,50,60,70,80],"labelExpr":"datum.value % 20 == 0 ? datum.label : ''","title":"Time in Months","tickOpacity":{"condition":{"test":"datum.value % 20 == 0","value":1},"value":0},"gridWidth":{"condition":{"test":"datum.value % 20 == 0","value":0.8},"value":0.4}}},
"y":{"field":"s","type":"quantitative","scale":{"domain":[-0.05,1.05],"nice":false,"zero":false},"axis":{"values":[0,0.125,0.25,0.375,0.5,0.625,0.75,0.875,1],"labelExpr":"(datum.value*4) % 1 == 0 ? format(datum.value, '.2f') : ''","title":"Overall Survival","minExtent":15,"maxExtent":15,"tickOpacity":{"condition":{"test":"(datum.value*4) % 1 == 0","value":1},"value":0},"gridWidth":{"condition":{"test":"(datum.value*4) % 1 == 0","value":0.8},"value":0.4}}},
"color":{"field":"g","type":"nominal","scale":{"domain":["l","h"],"range":["#1F4E9A","#F2291F"]},"legend":{"title":"Strata","orient":"none","legendX":81,"legendY":-20,"direction":"horizontal","labelExpr":"datum.label == 'l' ? 'FABP4 - low' : 'FABP4 - high'"}}}},
{"data":{"values":[{}]},"mark":{"type":"text","align":"left","baseline":"middle","fontSize":10,"color":"#222","lineHeight":17,"text":["Log-rank","p = 0.73"]},"encoding":{"x":{"datum":1.5},"y":{"datum":0.245}}}
]},
{"width":288,"height":43,"title":{"text":"Number at risk: n (%)","anchor":"start","frame":"group","fontSize":9.5,"fontWeight":"normal","color":"#333","offset":3},
"data":{"values":[{"g":"l","t":0,"n":"638 (100)"},{"g":"l","t":20,"n":"421 (66)"},{"g":"l","t":40,"n":"307 (48)"},{"g":"l","t":60,"n":"67 (11)"},{"g":"l","t":80,"n":"2 (0)"},{"g":"h","t":0,"n":"141 (100)"},{"g":"h","t":20,"n":"92 (65)"},{"g":"h","t":40,"n":"63 (45)"},{"g":"h","t":60,"n":"9 (6)"},{"g":"h","t":80,"n":"1 (1)"}]},
"mark":{"type":"text","fontSize":5.5,"color":"#333"},
"encoding":{"x":{"field":"t","type":"quantitative","scale":{"domain":[-3.9,83.8],"nice":false,"zero":false},"axis":{"values":[0,10,20,30,40,50,60,70,80],"labelExpr":"datum.value % 20 == 0 ? datum.label : ''","title":"Time in Months","tickOpacity":{"condition":{"test":"datum.value % 20 == 0","value":1},"value":0},"gridWidth":{"condition":{"test":"datum.value % 20 == 0","value":0.8},"value":0.4}}},
"y":{"field":"g","type":"nominal","scale":{"type":"point","domain":["l","h"],"padding":0.6},"axis":{"title":"Strata","titleFontSize":8,"labelExpr":"'▬'","labelFont":"DejaVu Sans","labelFontSize":10,"labelColor":{"condition":{"test":"datum.value == 'l'","value":"#1F4E9A"},"value":"#F2291F"},"ticks":false,"labelPadding":5,"minExtent":15,"maxExtent":15}},
"text":{"field":"n"}}}
],"spacing":3}
],"spacing":18,"resolve":{"scale":{"color":"independent"},"legend":{"color":"independent"}}}
],"spacing":19,"resolve":{"scale":{"color":"independent"},"legend":{"color":"independent"}}}
],
"spacing":12,
"resolve":{"scale":{"color":"independent"},"legend":{"color":"independent"}},
"config":{
"font":"Liberation Sans",
"view":{"stroke":"#A8A8A8","strokeWidth":0.8},
"axis":{"domain":false,"labelFontSize":5.5,"labelColor":"#555555","titleFontSize":7.5,"titleFontWeight":"normal","titleColor":"#222222","tickColor":"#555555","tickSize":2.5,"tickWidth":0.6,"gridColor":"#EBEBEB","labelPadding":1.5,"titlePadding":2},
"axisY":{"titleFontSize":7},
"legend":{"titleOrient":"left","titleFontSize":7.5,"titleFontWeight":"normal","titleColor":"#222222","titlePadding":3,"labelFontSize":5.5,"labelColor":"#333333","symbolType":"M-1,0H1M0,-0.45V0.45","symbolSize":196,"symbolStrokeWidth":1.3,"columnPadding":4,"labelOffset":3}
}
}
